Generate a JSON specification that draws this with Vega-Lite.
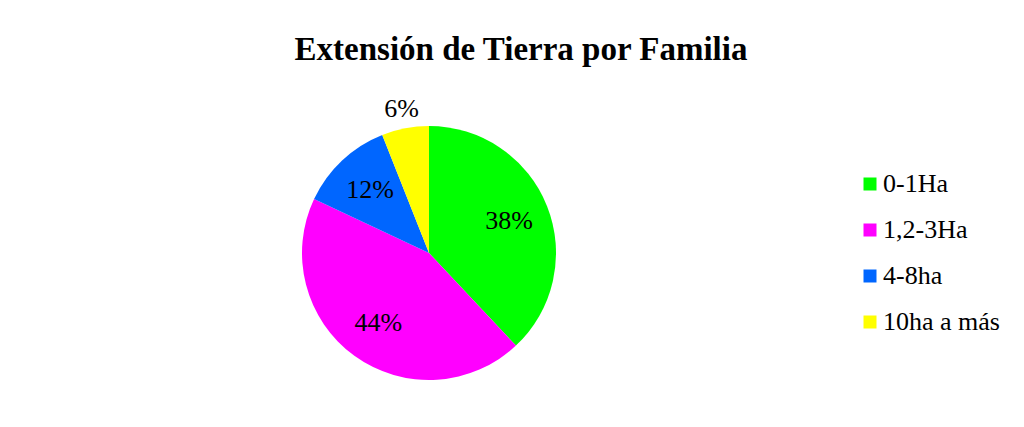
{
  "$schema": "https://vega.github.io/schema/vega-lite/v6.json",
  "width": 844,
  "height": 254,
  "autosize": "none",
  "padding": {"left": 7, "top": 126, "right": 173, "bottom": 47},
  "background": "white",
  "config": {"view": {"stroke": null}},
  "title": {
    "text": "Extensión de Tierra por Familia",
    "font": "Liberation Serif",
    "fontSize": 33,
    "fontWeight": "bold",
    "color": "black",
    "anchor": "middle",
    "baseline": "alphabetic",
    "dx": 92,
    "offset": 3
  },
  "data": {
    "values": [
      {"idx": 1, "cat": "0-1Ha", "value": 0.38},
      {"idx": 2, "cat": "1,2-3Ha", "value": 0.44},
      {"idx": 3, "cat": "4-8ha", "value": 0.12},
      {"idx": 4, "cat": "10ha a más", "value": 0.06}
    ]
  },
  "encoding": {
    "theta": {"field": "value", "type": "quantitative", "stack": true},
    "order": {"field": "idx", "type": "quantitative"}
  },
  "layer": [
    {
      "mark": {"type": "arc", "radius": 127, "stroke": null},
      "encoding": {
        "color": {
          "field": "cat",
          "type": "nominal",
          "scale": {
            "domain": ["0-1Ha", "1,2-3Ha", "4-8ha", "10ha a más"],
            "range": ["#00FF00", "#FF00FF", "#0066FF", "#FFFF00"]
          },
          "legend": {
            "title": null,
            "orient": "none",
            "legendX": 850,
            "legendY": 45,
            "symbolType": "square",
            "symbolSize": 169,
            "symbolStrokeWidth": 0,
            "labelFont": "Liberation Serif",
            "labelFontSize": 26,
            "labelColor": "black",
            "labelOffset": 0,
            "labelLimit": 300,
            "rowPadding": 20
          }
        }
      }
    },
    {
      "mark": {"type": "text", "radius": 86, "font": "Liberation Serif", "fontSize": 26, "color": "black"},
      "encoding": {
        "text": {"field": "value", "type": "quantitative", "format": ".0%"},
        "opacity": {"condition": {"test": "datum.cat !== '10ha a más'", "value": 1}, "value": 0}
      }
    },
    {
      "mark": {"type": "text", "radius": 147, "font": "Liberation Serif", "fontSize": 26, "color": "black"},
      "encoding": {
        "text": {"field": "value", "type": "quantitative", "format": ".0%"},
        "opacity": {"condition": {"test": "datum.cat === '10ha a más'", "value": 1}, "value": 0}
      }
    }
  ]
}
